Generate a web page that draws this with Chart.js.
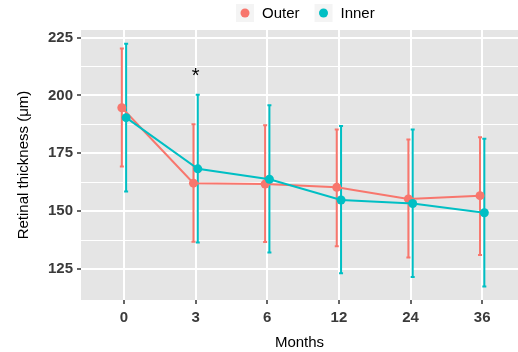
<!DOCTYPE html>
<html>
<head>
<meta charset="utf-8">
<script src="https://cdn.jsdelivr.net/npm/chart.js@4/dist/chart.umd.min.js"></script>
<style>
  body { margin: 0; background: #fff; }
</style>
</head>
<body>
<canvas id="thicknessChart" width="518" height="352"></canvas>
<script>
// values
const months = ['0', '3', '6', '12', '24', '36'];
const outerMean = [194.7, 162.1, 161.7, 160.3, 155.3, 156.7];
const outerLow  = [169.3, 136.8, 136.7, 134.8, 130.0, 131.1];
const outerHigh = [220.3, 187.6, 187.1, 185.3, 181.0, 181.9];
const innerMean = [190.4, 168.3, 163.8, 154.8, 153.3, 149.3];
const innerLow  = [158.5, 136.4, 132.1, 123.2, 121.5, 117.4];
const innerHigh = [222.4, 200.3, 195.8, 186.8, 185.3, 181.3];
const yTicks = [125, 137.5, 150, 162.5, 175, 187.5, 200, 212.5, 225];
const marks = [{ month: 1, y: 210, text: '*' }];

const OUTER = '#F8766D';
const INNER = '#00BFC4';
const dodge = 0.03;

function points(mean, low, high, shift) {
    return mean.map(function (v, i) {
        return { x: i + shift, y: v, low: low[i], high: high[i] };
    });
}

// panel background like ggplot
const panelBg = {
    id: 'panelBg',
    beforeDraw: function (chart) {
        const a = chart.chartArea;
        chart.ctx.save();
        chart.ctx.fillStyle = '#E5E5E5';
        chart.ctx.fillRect(a.left, a.top, a.right - a.left, a.bottom - a.top);
        chart.ctx.restore();
    }
};

// vertical error bars with small caps, asterisk and legend
const errorBars = {
    id: 'errorBars',
    beforeDatasetsDraw: function (chart) {
        const ctx = chart.ctx, xs = chart.scales.x, ys = chart.scales.y;
        ctx.save();
        chart.data.datasets.slice().reverse().forEach(function (ds) {
            ctx.strokeStyle = ds.borderColor;
            ctx.lineWidth = 2;
            ds.data.forEach(function (p) {
                const px = xs.getPixelForValue(p.x);
                const t = ys.getPixelForValue(p.high), b = ys.getPixelForValue(p.low);
                ctx.beginPath();
                ctx.moveTo(px, t); ctx.lineTo(px, b);
                ctx.moveTo(px - 2, t); ctx.lineTo(px + 2, t);
                ctx.moveTo(px - 2, b); ctx.lineTo(px + 2, b);
                ctx.stroke();
            });
        });
        ctx.restore();
    },
    afterDatasetsDraw: function (chart) {
        const ctx = chart.ctx, xs = chart.scales.x, ys = chart.scales.y;
        ctx.save();
        ctx.fillStyle = '#000';
        ctx.font = '20px "Liberation Sans", Arial, sans-serif';
        ctx.textAlign = 'center';
        ctx.textBaseline = 'middle';
        marks.forEach(function (m) {
            ctx.fillText(m.text, xs.getPixelForValue(m.month), ys.getPixelForValue(m.y) + 4);
        });

        // legend on top
        const items = chart.data.datasets.slice().sort(function (a, b) { return b.order - a.order; });
        ctx.font = '15px "Liberation Sans", Arial, sans-serif';
        ctx.textAlign = 'left';
        let x = 236;
        items.forEach(function (ds) {
            ctx.fillStyle = '#F4F4F4';
            ctx.fillRect(x, 4, 18, 18);
            ctx.fillStyle = ds.borderColor;
            ctx.beginPath();
            ctx.arc(x + 9, 13, 4.5, 0, Math.PI * 2);
            ctx.fill();
            ctx.fillStyle = '#000';
            ctx.fillText(ds.label, x + 26, 14);
            x += 26 + ctx.measureText(ds.label).width + 15;
        });
        ctx.restore();
    }
};

new Chart(document.getElementById('thicknessChart'), {
    type: 'line',
    data: {
        datasets: [
            {
                label: 'Inner',
                data: points(innerMean, innerLow, innerHigh, dodge),
                borderColor: INNER,
                backgroundColor: INNER,
                borderWidth: 2,
                pointRadius: 4.5,
                pointBorderWidth: 0,
                order: 0
            },
            {
                label: 'Outer',
                data: points(outerMean, outerLow, outerHigh, -dodge),
                borderColor: OUTER,
                backgroundColor: OUTER,
                borderWidth: 2,
                pointRadius: 4.5,
                pointBorderWidth: 0,
                order: 1
            }
        ]
    },
    options: {
        responsive: false,
        animation: false,
        devicePixelRatio: 1,
        layout: { autoPadding: false, padding: { top: 30, right: 0, left: 0, bottom: 0 } },
        plugins: {
            legend: { display: false },
            tooltip: { enabled: false }
        },
        scales: {
            x: {
                type: 'linear',
                min: -0.6,
                max: 5.5,
                afterBuildTicks: function (scale) {
                    scale.ticks = months.map(function (m, i) { return { value: i }; });
                },
                afterFit: function (scale) {
                    scale.height = 52;
                    scale.paddingLeft = 0;
                    scale.paddingRight = 0;
                },
                grid: {
                    color: '#FFFFFF',
                    lineWidth: 2,
                    tickColor: '#333333',
                    tickLength: 4,
                    tickWidth: 1.5
                },
                border: { display: false },
                ticks: {
                    padding: 5,
                    color: '#3A3A3A',
                    font: { family: '"Liberation Sans", Arial', size: 15, weight: 'bold' },
                    callback: function (v) { return months[v]; }
                },
                title: {
                    display: true,
                    text: 'Months',
                    color: '#000',
                    font: { family: '"Liberation Sans", Arial', size: 15 },
                    padding: { top: 0, bottom: 0 }
                }
            },
            y: {
                min: 111.6,
                max: 228.3,
                afterBuildTicks: function (scale) {
                    scale.ticks = yTicks.map(function (v) { return { value: v }; });
                },
                afterFit: function (scale) { scale.width = 81; },
                grid: {
                    color: '#FFFFFF',
                    lineWidth: function (c) { return c.tick && c.tick.value % 25 === 0 ? 2 : 1; },
                    tickColor: function (c) { return c.tick && c.tick.value % 25 === 0 ? '#333333' : 'rgba(0,0,0,0)'; },
                    tickLength: 4,
                    tickWidth: 1.5
                },
                border: { display: false },
                ticks: {
                    padding: 4,
                    color: '#3A3A3A',
                    font: { family: '"Liberation Sans", Arial', size: 15, weight: 'bold' },
                    callback: function (v) { return v % 25 === 0 ? v : ''; }
                },
                title: {
                    display: true,
                    text: 'Retinal thickness (μm)',
                    color: '#000',
                    font: { family: '"Liberation Sans", Arial', size: 15 },
                    padding: { top: 15, bottom: 0 }
                }
            }
        }
    },
    plugins: [panelBg, errorBars]
});
</script>
</body>
</html>
